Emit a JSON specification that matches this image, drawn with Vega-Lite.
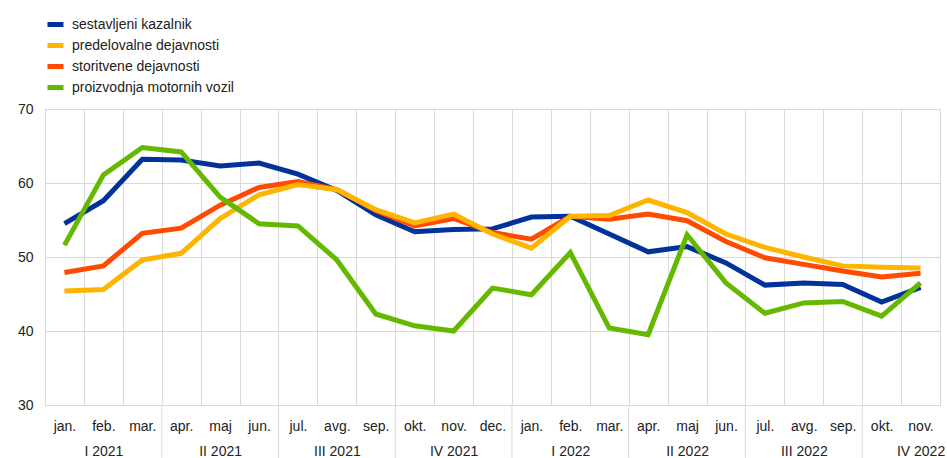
{
  "$schema": "https://vega.github.io/schema/vega-lite/v6.json",
  "width": 895,
  "height": 296,
  "autosize": {"type": "none"},
  "padding": {"left": 45, "top": 109, "right": 7, "bottom": 53},
  "background": "white",
  "config": {
    "font": "Liberation Sans",
    "view": {"stroke": "#d9d9d9", "strokeWidth": 1}
  },
  "datasets": {
    "series": [
      {"m": "2021-01", "s": "sestavljeni kazalnik", "v": 54.5},
      {"m": "2021-02", "s": "sestavljeni kazalnik", "v": 57.6},
      {"m": "2021-03", "s": "sestavljeni kazalnik", "v": 63.2},
      {"m": "2021-04", "s": "sestavljeni kazalnik", "v": 63.1},
      {"m": "2021-05", "s": "sestavljeni kazalnik", "v": 62.3},
      {"m": "2021-06", "s": "sestavljeni kazalnik", "v": 62.7},
      {"m": "2021-07", "s": "sestavljeni kazalnik", "v": 61.2},
      {"m": "2021-08", "s": "sestavljeni kazalnik", "v": 59.0},
      {"m": "2021-09", "s": "sestavljeni kazalnik", "v": 55.7},
      {"m": "2021-10", "s": "sestavljeni kazalnik", "v": 53.4},
      {"m": "2021-11", "s": "sestavljeni kazalnik", "v": 53.7},
      {"m": "2021-12", "s": "sestavljeni kazalnik", "v": 53.8},
      {"m": "2022-01", "s": "sestavljeni kazalnik", "v": 55.4},
      {"m": "2022-02", "s": "sestavljeni kazalnik", "v": 55.5},
      {"m": "2022-03", "s": "sestavljeni kazalnik", "v": 53.1},
      {"m": "2022-04", "s": "sestavljeni kazalnik", "v": 50.7},
      {"m": "2022-05", "s": "sestavljeni kazalnik", "v": 51.4},
      {"m": "2022-06", "s": "sestavljeni kazalnik", "v": 49.2},
      {"m": "2022-07", "s": "sestavljeni kazalnik", "v": 46.2},
      {"m": "2022-08", "s": "sestavljeni kazalnik", "v": 46.5},
      {"m": "2022-09", "s": "sestavljeni kazalnik", "v": 46.3},
      {"m": "2022-10", "s": "sestavljeni kazalnik", "v": 43.9},
      {"m": "2022-11", "s": "sestavljeni kazalnik", "v": 45.9},
      {"m": "2021-01", "s": "storitvene dejavnosti", "v": 47.9},
      {"m": "2021-02", "s": "storitvene dejavnosti", "v": 48.8},
      {"m": "2021-03", "s": "storitvene dejavnosti", "v": 53.2},
      {"m": "2021-04", "s": "storitvene dejavnosti", "v": 53.9},
      {"m": "2021-05", "s": "storitvene dejavnosti", "v": 57.0},
      {"m": "2021-06", "s": "storitvene dejavnosti", "v": 59.4},
      {"m": "2021-07", "s": "storitvene dejavnosti", "v": 60.2},
      {"m": "2021-08", "s": "storitvene dejavnosti", "v": 59.1},
      {"m": "2021-09", "s": "storitvene dejavnosti", "v": 56.3},
      {"m": "2021-10", "s": "storitvene dejavnosti", "v": 54.2},
      {"m": "2021-11", "s": "storitvene dejavnosti", "v": 55.2},
      {"m": "2021-12", "s": "storitvene dejavnosti", "v": 53.3},
      {"m": "2022-01", "s": "storitvene dejavnosti", "v": 52.4},
      {"m": "2022-02", "s": "storitvene dejavnosti", "v": 55.5},
      {"m": "2022-03", "s": "storitvene dejavnosti", "v": 55.1},
      {"m": "2022-04", "s": "storitvene dejavnosti", "v": 55.8},
      {"m": "2022-05", "s": "storitvene dejavnosti", "v": 54.9},
      {"m": "2022-06", "s": "storitvene dejavnosti", "v": 52.1},
      {"m": "2022-07", "s": "storitvene dejavnosti", "v": 49.9},
      {"m": "2022-08", "s": "storitvene dejavnosti", "v": 49.0},
      {"m": "2022-09", "s": "storitvene dejavnosti", "v": 48.1},
      {"m": "2022-10", "s": "storitvene dejavnosti", "v": 47.3},
      {"m": "2022-11", "s": "storitvene dejavnosti", "v": 47.8},
      {"m": "2021-01", "s": "predelovalne dejavnosti", "v": 45.4},
      {"m": "2021-02", "s": "predelovalne dejavnosti", "v": 45.6},
      {"m": "2021-03", "s": "predelovalne dejavnosti", "v": 49.6},
      {"m": "2021-04", "s": "predelovalne dejavnosti", "v": 50.5},
      {"m": "2021-05", "s": "predelovalne dejavnosti", "v": 55.2},
      {"m": "2021-06", "s": "predelovalne dejavnosti", "v": 58.4},
      {"m": "2021-07", "s": "predelovalne dejavnosti", "v": 59.8},
      {"m": "2021-08", "s": "predelovalne dejavnosti", "v": 59.1},
      {"m": "2021-09", "s": "predelovalne dejavnosti", "v": 56.4},
      {"m": "2021-10", "s": "predelovalne dejavnosti", "v": 54.6},
      {"m": "2021-11", "s": "predelovalne dejavnosti", "v": 55.8},
      {"m": "2021-12", "s": "predelovalne dejavnosti", "v": 53.1},
      {"m": "2022-01", "s": "predelovalne dejavnosti", "v": 51.2},
      {"m": "2022-02", "s": "predelovalne dejavnosti", "v": 55.5},
      {"m": "2022-03", "s": "predelovalne dejavnosti", "v": 55.6},
      {"m": "2022-04", "s": "predelovalne dejavnosti", "v": 57.7},
      {"m": "2022-05", "s": "predelovalne dejavnosti", "v": 56.0},
      {"m": "2022-06", "s": "predelovalne dejavnosti", "v": 53.1},
      {"m": "2022-07", "s": "predelovalne dejavnosti", "v": 51.3},
      {"m": "2022-08", "s": "predelovalne dejavnosti", "v": 50.0},
      {"m": "2022-09", "s": "predelovalne dejavnosti", "v": 48.8},
      {"m": "2022-10", "s": "predelovalne dejavnosti", "v": 48.6},
      {"m": "2022-11", "s": "predelovalne dejavnosti", "v": 48.5},
      {"m": "2021-01", "s": "proizvodnja motornih vozil", "v": 51.6},
      {"m": "2021-02", "s": "proizvodnja motornih vozil", "v": 61.1},
      {"m": "2021-03", "s": "proizvodnja motornih vozil", "v": 64.8},
      {"m": "2021-04", "s": "proizvodnja motornih vozil", "v": 64.2},
      {"m": "2021-05", "s": "proizvodnja motornih vozil", "v": 58.1},
      {"m": "2021-06", "s": "proizvodnja motornih vozil", "v": 54.5},
      {"m": "2021-07", "s": "proizvodnja motornih vozil", "v": 54.2},
      {"m": "2021-08", "s": "proizvodnja motornih vozil", "v": 49.6},
      {"m": "2021-09", "s": "proizvodnja motornih vozil", "v": 42.3},
      {"m": "2021-10", "s": "proizvodnja motornih vozil", "v": 40.7},
      {"m": "2021-11", "s": "proizvodnja motornih vozil", "v": 40.0},
      {"m": "2021-12", "s": "proizvodnja motornih vozil", "v": 45.8},
      {"m": "2022-01", "s": "proizvodnja motornih vozil", "v": 44.9},
      {"m": "2022-02", "s": "proizvodnja motornih vozil", "v": 50.6},
      {"m": "2022-03", "s": "proizvodnja motornih vozil", "v": 40.4},
      {"m": "2022-04", "s": "proizvodnja motornih vozil", "v": 39.5},
      {"m": "2022-05", "s": "proizvodnja motornih vozil", "v": 53.0},
      {"m": "2022-06", "s": "proizvodnja motornih vozil", "v": 46.5},
      {"m": "2022-07", "s": "proizvodnja motornih vozil", "v": 42.4},
      {"m": "2022-08", "s": "proizvodnja motornih vozil", "v": 43.8},
      {"m": "2022-09", "s": "proizvodnja motornih vozil", "v": 44.0},
      {"m": "2022-10", "s": "proizvodnja motornih vozil", "v": 42.0},
      {"m": "2022-11", "s": "proizvodnja motornih vozil", "v": 46.5}
    ],
    "quarters": [
      {"m": "2021-04"},
      {"m": "2021-07"},
      {"m": "2021-10"},
      {"m": "2022-01"},
      {"m": "2022-04"},
      {"m": "2022-07"},
      {"m": "2022-10"}
    ]
  },
  "layer": [
    {
      "data": {"name": "series"},
      "mark": {"type": "line", "strokeWidth": 5},
      "encoding": {
        "x": {
          "field": "m",
          "type": "ordinal",
          "scale": {"type": "point", "padding": 0.5},
          "axis": {
            "title": null,
            "grid": true,
            "gridColor": "#d9d9d9",
            "domain": false,
            "ticks": false,
            "tickOffset": -19.457,
            "labelOffset": 19.457,
            "labelExpr": "indexof(['02','05','08','11'], slice(datum.value,5)) >= 0 ? [['jan.','feb.','mar.','apr.','maj','jun.','jul.','avg.','sep.','okt.','nov.','dec.'][toNumber(slice(datum.value,5))-1], ['I','II','III','IV'][indexof(['02','05','08','11'], slice(datum.value,5))] + ' ' + slice(datum.value,0,4)] : ['jan.','feb.','mar.','apr.','maj','jun.','jul.','avg.','sep.','okt.','nov.','dec.'][toNumber(slice(datum.value,5))-1]",
            "labelFontSize": 14,
            "labelLineHeight": 25,
            "labelColor": "#222222",
            "labelAngle": 0,
            "labelPadding": 14
          }
        },
        "y": {
          "field": "v",
          "type": "quantitative",
          "scale": {"domain": [30, 70], "nice": false, "zero": false},
          "axis": {
            "title": null,
            "values": [30, 40, 50, 60, 70],
            "domain": false,
            "ticks": false,
            "grid": true,
            "gridColor": "#d9d9d9",
            "labelFontSize": 14,
            "labelColor": "#222222",
            "labelPadding": 12
          }
        },
        "color": {
          "field": "s",
          "type": "nominal",
          "scale": {
            "domain": ["sestavljeni kazalnik", "predelovalne dejavnosti", "storitvene dejavnosti", "proizvodnja motornih vozil"],
            "range": ["#003299", "#ffb400", "#ff4b00", "#65b800"]
          },
          "legend": {
            "title": null,
            "orient": "none",
            "legendX": 0,
            "legendY": -95,
            "direction": "vertical",
            "symbolType": "stroke",
            "symbolStrokeWidth": 5,
            "symbolSize": 256,
            "labelFontSize": 14,
            "labelColor": "#222222",
            "labelOffset": 6,
            "labelLimit": 400,
            "rowPadding": -3.2
          }
        }
      }
    },
    {
      "data": {"name": "quarters"},
      "mark": {"type": "rule", "color": "#d9d9d9", "strokeWidth": 1, "xOffset": -19.457, "clip": false},
      "encoding": {
        "x": {"field": "m", "type": "ordinal"},
        "y": {"datum": 30},
        "y2": {"datum": 22.84}
      }
    }
  ]
}
